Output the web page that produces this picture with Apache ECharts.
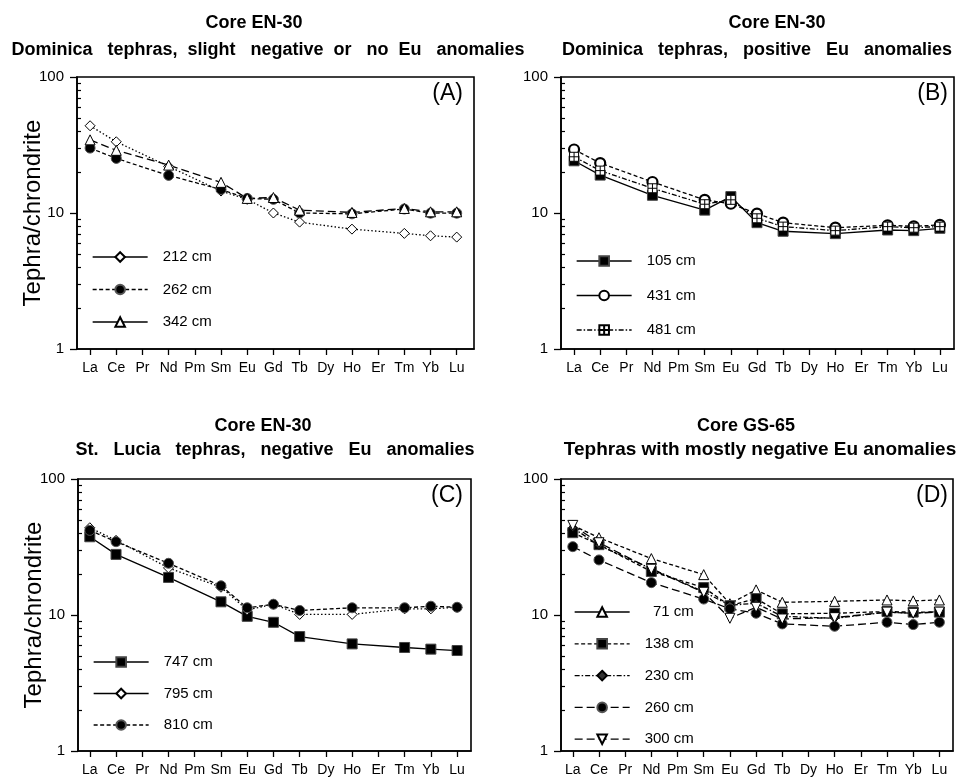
<!DOCTYPE html>
<html>
<head>
<meta charset="utf-8">
<script src="https://cdn.jsdelivr.net/npm/echarts@6/dist/echarts.min.js"></script>
<style>
html,body{margin:0;padding:0;background:#fff;}
#chart{width:959px;height:777px;}
</style>
</head>
<body>
<div id="chart"></div>
<script>
// ---------- data ----------
var categories = ['La','Ce','Pr','Nd','Pm','Sm','Eu','Gd','Tb','Dy','Ho','Er','Tm','Yb','Lu'];
var measured = ['La','Ce','Nd','Sm','Eu','Gd','Tb','Ho','Tm','Yb','Lu'];
var yTickLabels = [1, 10, 100];
var minorTickValues = [2,3,4,5,6,7,8,9,20,30,40,50,60,70,80,90];

// Panel A: Core EN-30, Dominica tephras, slight negative or no Eu anomalies
var a212 = [43.8, 33.4, 22.0, 14.5, 12.6, 10.0, 8.57, 7.61, 7.08, 6.80, 6.65];
var a262 = [30.0, 25.2, 18.9, 14.9, 12.8, 12.6, 10.0, 9.86, 10.7, 9.97, 9.97];
var a342 = [34.5, 28.9, 22.5, 16.8, 12.8, 13.0, 10.5, 10.1, 10.8, 10.2, 10.2];
// Panel B: Core EN-30, Dominica tephras, positive Eu anomalies
var b105 = [24.2, 19.0, 13.5, 10.5, 13.2, 8.49, 7.34, 7.05, 7.50, 7.42, 7.72];
var b431 = [29.3, 23.3, 16.9, 12.5, 11.7, 9.89, 8.49, 7.80, 8.12, 7.98, 8.17];
var b481 = [25.9, 20.5, 15.2, 11.6, 12.5, 9.14, 7.94, 7.42, 7.94, 7.80, 7.94];
// Panel C: Core EN-30, St. Lucia tephras, negative Eu anomalies
var c747 = [37.6, 27.9, 18.9, 12.5, 9.78, 8.84, 6.94, 6.13, 5.77, 5.61, 5.48];
var c795 = [43.8, 35.4, 22.2, 16.0, 10.9, 12.0, 10.1, 10.1, 11.1, 11.1, 11.4];
var c810 = [41.9, 34.6, 24.0, 16.4, 11.3, 12.0, 10.8, 11.3, 11.3, 11.6, 11.4];
// Panel D: Core GS-65, tephras with mostly negative Eu anomalies
var d71  = [45.6, 37.0, 26.0, 19.8, 12.1, 15.3, 12.4, 12.6, 12.9, 12.7, 12.9];
var d138 = [40.3, 32.9, 20.9, 15.9, 11.7, 13.2, 10.2, 10.3, 10.6, 10.5, 10.5];
var d230 = [43.8, 32.5, 21.9, 14.8, 11.8, 12.2, 9.78, 9.45, 10.5, 10.3, 10.6];
var d260 = [31.8, 25.4, 17.3, 13.1, 11.1, 10.3, 8.60, 8.26, 8.84, 8.50, 8.84];
var d300 = [45.6, 34.0, 21.7, 14.7, 9.46, 11.4, 9.35, 9.56, 10.5, 10.3, 10.5];

var panelTitles = [
  ['Core EN-30', 'Dominica   tephras,  slight   negative  or   no  Eu   anomalies'],
  ['Core EN-30', 'Dominica   tephras,   positive   Eu   anomalies'],
  ['Core EN-30', 'St.   Lucia   tephras,   negative   Eu   anomalies'],
  ['Core GS-65', 'Tephras with mostly negative Eu anomalies']
];
var panelLetters = ['(A)', '(B)', '(C)', '(D)'];
var yAxisName = 'Tephra/chrondrite';

// ---------- layout / styles ----------
var FONT = 'Liberation Sans, Arial, Helvetica, sans-serif';
var grids = [
  {left: 77,  top: 77,  width: 397, height: 272, xmin: -0.5,  xmax: 14.66},
  {left: 561, top: 77,  width: 393, height: 272, xmin: -0.5,  xmax: 14.54},
  {left: 78,  top: 479, width: 393, height: 274, xmin: -0.45, xmax: 14.53},
  {left: 561, top: 479, width: 392, height: 274, xmin: -0.45, xmax: 14.52}
];
var titlePos = [
  [254, 23, 268, 50],
  [777, 23, 757, 50],
  [263, 426, 275, 450],
  [746, 426, 760, 450]
];
var titleSizes = [18, 18, 18, 19];
var letterPos = [[463, 94], [948, 94], [463, 496], [948, 496]];
var legendPos = [
  {left: 92, top: 249, gap: 16.5},
  {left: 576, top: 253, gap: 18.5},
  {left: 93, top: 654, gap: 15.5},
  {left: 574, top: 604, gap: 15.8}
];

var DOT = [1.5, 2.2];
var DASH = [4, 2.5];
var DASHDOT = [5, 2, 1.5, 2];
var LONGDASH = [8, 4];

var openDiamond = {symbol: 'diamond', size: 10, fill: '#fff', border: '#000', bw: 1};
var filledCircle = {symbol: 'circle', size: 10, fill: '#000', border: '#555', bw: 1};
var openTriangle = {symbol: 'triangle', size: 10, fill: '#fff', border: '#000', bw: 1};
var filledSquare = {symbol: 'rect', size: 10, fill: '#000', border: '#444', bw: 1};
var openCircle = {symbol: 'circle', size: 10, fill: '#fff', border: '#000', bw: 2.2};
var crossSquare = {symbol: 'path://M0,0L10,0L10,10L0,10Z M5,0L5,10 M0,5L10,5', size: 9, fill: '#fff', border: '#000', bw: 1};
var smallDiamond = {symbol: 'diamond', size: 8, fill: '#333', border: '#000', bw: 1};
var downTriangle = {symbol: 'triangle', size: 10, fill: '#fff', border: '#000', bw: 1, rotate: 180};

var seriesDefs = [
  {panel: 0, name: '212 cm', vals: a212, mark: openDiamond, line: DOT, legLine: 'solid'},
  {panel: 0, name: '262 cm', vals: a262, mark: filledCircle, line: DASH, legLine: DASH},
  {panel: 0, name: '342 cm', vals: a342, mark: openTriangle, line: LONGDASH, legLine: 'solid'},
  {panel: 1, name: '105 cm', vals: b105, mark: filledSquare, line: 'solid', legLine: 'solid'},
  {panel: 1, name: '431 cm', vals: b431, mark: openCircle, line: DASH, legLine: 'solid'},
  {panel: 1, name: '481 cm', vals: b481, mark: crossSquare, line: DASHDOT, legLine: DASHDOT},
  {panel: 2, name: '747 cm', vals: c747, mark: filledSquare, line: 'solid', legLine: 'solid'},
  {panel: 2, name: '795 cm', vals: c795, mark: openDiamond, line: DOT, legLine: 'solid'},
  {panel: 2, name: '810 cm', vals: c810, mark: filledCircle, line: DASH, legLine: DASH},
  {panel: 3, name: '71 cm',  vals: d71,  mark: openTriangle, line: DASH, legLine: 'solid'},
  {panel: 3, name: '138 cm', vals: d138, mark: filledSquare, line: DASH, legLine: DASH},
  {panel: 3, name: '230 cm', vals: d230, mark: smallDiamond, line: DASHDOT, legLine: DASHDOT},
  {panel: 3, name: '260 cm', vals: d260, mark: filledCircle, line: LONGDASH, legLine: LONGDASH},
  {panel: 3, name: '300 cm', vals: d300, mark: downTriangle, line: LONGDASH, legLine: LONGDASH}
];

function toPoints(vals) {
  return measured.map(function (el, i) { return [categories.indexOf(el), vals[i]]; });
}

var option = {
  animation: false,
  backgroundColor: '#fff',
  grid: [], xAxis: [], yAxis: [], series: [], legend: [], graphic: []
};

var catIdx = categories.map(function (c, i) { return i; });

grids.forEach(function (g, p) {
  option.grid.push({left: g.left, top: g.top, width: g.width, height: g.height,
    show: true, borderColor: '#000', borderWidth: 1.6, backgroundColor: 'transparent'});
  option.xAxis.push({
    type: 'value', gridIndex: p, min: g.xmin, max: g.xmax, position: 'bottom',
    splitLine: {show: false},
    axisLine: {show: true, onZero: false, lineStyle: {color: '#000', width: 1.6}},
    axisTick: {show: true, inside: false, length: 6, customValues: catIdx,
      lineStyle: {color: '#000', width: 1.3}},
    axisLabel: {show: true, margin: 12, customValues: catIdx,
      formatter: function (v) { return categories[Math.round(v)] || ''; },
      color: '#000', fontSize: 14, fontFamily: FONT, showMinLabel: true, showMaxLabel: true}
  });
  // main log axis: labels and major ticks
  option.yAxis.push({
    type: 'log', logBase: 10, gridIndex: p, min: 1, max: 100, position: 'left',
    name: (p % 2 === 0) ? yAxisName : '', nameLocation: 'middle', nameGap: 32, nameMoveOverlap: false,
    nameTextStyle: {fontSize: 24, fontFamily: FONT, color: '#000'},
    splitLine: {show: false},
    axisLine: {show: true, onZero: false, lineStyle: {color: '#000', width: 1.6}},
    axisTick: {show: true, inside: false, length: 7, customValues: yTickLabels, lineStyle: {color: '#000', width: 1.3}},
    axisLabel: {show: true, margin: 13, customValues: yTickLabels, color: '#000', fontSize: 15, fontFamily: FONT,
      formatter: function (v) { return String(Math.round(v)); }}
  });
  // minor ticks (inside)
  option.yAxis.push({
    type: 'log', logBase: 10, gridIndex: p, min: 1, max: 100, position: 'left', offset: 0,
    splitLine: {show: false}, axisLine: {show: false, onZero: false},
    axisTick: {show: true, inside: true, length: 4, customValues: minorTickValues, lineStyle: {color: '#000', width: 1.2}},
    axisLabel: {show: false}
  });
  var tp = titlePos[p];
  option.graphic.push({type: 'text', x: tp[0], y: tp[1], silent: true,
    style: {text: panelTitles[p][0], align: 'center', verticalAlign: 'middle', font: 'bold 18px ' + FONT, fill: '#000'}});
  option.graphic.push({type: 'text', x: tp[2], y: tp[3], silent: true,
    style: {text: panelTitles[p][1], align: 'center', verticalAlign: 'middle', font: 'bold ' + titleSizes[p] + 'px ' + FONT, fill: '#000'}});
  option.graphic.push({type: 'text', x: letterPos[p][0], y: letterPos[p][1], silent: true,
    style: {text: panelLetters[p], align: 'right', verticalAlign: 'middle', font: '23px ' + FONT, fill: '#000'}});
});

grids.forEach(function (g, p) {
  var defs = seriesDefs.filter(function (d) { return d.panel === p; });
  var lp = legendPos[p];
  option.legend.push({
    orient: 'vertical', left: lp.left, top: lp.top, itemGap: lp.gap,
    itemWidth: 55, itemHeight: 12, selectedMode: false, padding: 0,
    formatter: function (n) { return n.length < 6 ? '  ' + n : n; },
    textStyle: {fontSize: 15, fontFamily: FONT, color: '#000', padding: [0, 0, 0, 10], lineHeight: 16},
    data: defs.map(function (d) {
      return {name: d.name, lineStyle: {type: d.legLine, width: 1.3, color: '#000'}};
    })
  });
});

seriesDefs.forEach(function (d) {
  option.series.push({
    type: 'line', name: d.name, xAxisIndex: d.panel, yAxisIndex: d.panel * 2,
    data: toPoints(d.vals),
    symbol: d.mark.symbol, symbolSize: d.mark.size, symbolRotate: d.mark.rotate || 0,
    showAllSymbol: true,
    lineStyle: {color: '#000', width: 1.3, type: d.line},
    itemStyle: {color: d.mark.fill, borderColor: d.mark.border, borderWidth: d.mark.bw},
    emphasis: {disabled: true}, z: 3
  });
});

var chart = echarts.init(document.getElementById('chart'));
chart.setOption(option);
</script>
</body>
</html>
